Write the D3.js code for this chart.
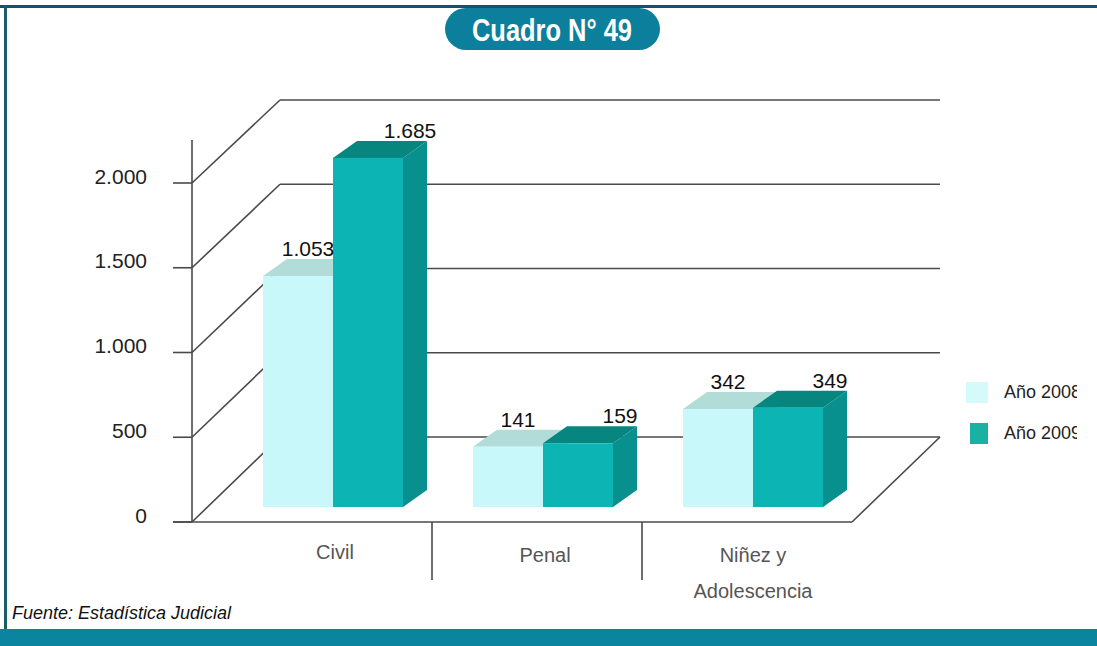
<!DOCTYPE html>
<html>
<head>
<meta charset="utf-8">
<title>Cuadro N° 49</title>
<style>
  body { margin: 0; background: #fff; }
  svg { display: block; }
</style>
</head>
<body>
<div id="container"></div>
<script src="https://cdn.jsdelivr.net/npm/d3@7"></script>
<script>
// datos
var categories = ['Civil', 'Penal', 'Niñez y Adolescencia'];
var series = ['Año 2008', 'Año 2009'];
var values2008 = [1053, 141, 342];
var values2009 = [1685, 159, 349];
var yTicks = [0, 500, 1000, 1500, 2000];
var yTickLabels = ['0', '500', '1.000', '1.500', '2.000'];
var valueLabels = [['1.053', '141', '342'], ['1.685', '159', '349']];

var width = 1097, height = 646;
var font = '"Liberation Sans Narrow", "Liberation Sans", Arial, sans-serif';

var svg = d3.select('#container').append('svg')
    .attr('width', width)
    .attr('height', height);

// marco
svg.append('rect').attr('x', 0).attr('y', 5).attr('width', width).attr('height', 3).attr('fill', '#0f5568');
svg.append('rect').attr('x', 4).attr('y', 5).attr('width', 3).attr('height', 630).attr('fill', '#1a5d6a');
svg.append('rect').attr('x', 0).attr('y', 629).attr('width', width).attr('height', 17).attr('fill', '#0a849f');

// titulo
svg.append('rect').attr('x', 445).attr('y', 8).attr('width', 215).attr('height', 42).attr('rx', 21)
    .attr('fill', '#0b7f9b');
svg.append('text').attr('x', 552).attr('y', 41).attr('text-anchor', 'middle')
    .attr('font-family', font).attr('font-weight', 'bold').attr('font-size', 32)
    .attr('textLength', 160).attr('lengthAdjust', 'spacingAndGlyphs')
    .attr('fill', '#fff').text('Cuadro N° 49');

// escalas (frente y fondo de la caja 3D)
var axisX = 192, backX = 280, backRight = 940, floorRight = 852;
var yFront = d3.scaleLinear().domain([0, 2000]).range([522, 183]);
var yBack = d3.scaleLinear().domain([0, 2000]).range([437, 100]);
var yBar = d3.scaleLinear().domain([0, 2000]).range([473, 99]);
var barBottom = 507;

var x0 = d3.scaleBand().domain(categories).range([222, 852]);
var x1 = d3.scaleBand().domain(series).range([0, 140]);
var groupOffset = (x0.bandwidth() - 140) / 2 + 6;

var lineColor = '#4a4a4a';
var grid = svg.append('g').attr('stroke', lineColor).attr('stroke-width', 1.6).attr('fill', 'none');

// pared izquierda y fondo
yTicks.forEach(function(v) {
    grid.append('line').attr('x1', axisX).attr('y1', yFront(v)).attr('x2', backX).attr('y2', yBack(v));
    grid.append('line').attr('x1', backX).attr('y1', yBack(v)).attr('x2', backRight).attr('y2', yBack(v));
});
// piso
grid.append('line').attr('x1', backRight).attr('y1', yBack(0)).attr('x2', floorRight).attr('y2', yFront(0));
grid.append('line').attr('x1', 173).attr('y1', yFront(0)).attr('x2', floorRight).attr('y2', yFront(0));
// eje vertical y marcas
grid.append('line').attr('x1', axisX).attr('y1', 140).attr('x2', axisX).attr('y2', yFront(0));
yTicks.forEach(function(v) {
    grid.append('line').attr('x1', 173).attr('y1', yFront(v)).attr('x2', axisX).attr('y2', yFront(v));
});
// separadores de categorias
categories.slice(1).forEach(function(c) {
    grid.append('line').attr('x1', x0(c)).attr('y1', yFront(0)).attr('x2', x0(c)).attr('y2', 580);
});

// etiquetas eje Y
svg.append('g').selectAll('text').data(yTicks).enter().append('text')
    .attr('x', 147).attr('y', function(d) { return yFront(d) - 5; })
    .attr('text-anchor', 'end').attr('dominant-baseline', 'middle')
    .attr('font-family', font).attr('font-size', 21).attr('fill', '#222')
    .text(function(d, i) { return yTickLabels[i]; });

// barras 3D
var dx = 24, dy = -17;
var styles = [
    { front: '#c8f8fa', side: '#a8e4e4', top: '#b2dcd8' },
    { front: '#0cb4b4', side: '#07908e', top: '#078680' }
];
var allValues = [values2008, values2009];
var bars = svg.append('g');

series.forEach(function(s, si) {
    categories.forEach(function(c, ci) {
        var v = allValues[si][ci];
        var xa = x0(c) + groupOffset + x1(s);
        var xb = xa + x1.bandwidth();
        var yt = yBar(v);
        var st = styles[si];
        bars.append('polygon')
            .attr('points', [[xb, yt], [xb + dx, yt + dy], [xb + dx, barBottom + dy], [xb, barBottom]].join(' '))
            .attr('fill', st.side);
        bars.append('polygon')
            .attr('points', [[xa, yt], [xa + dx, yt + dy], [xb + dx, yt + dy], [xb, yt]].join(' '))
            .attr('fill', st.top);
        bars.append('rect')
            .attr('x', xa).attr('y', yt).attr('width', xb - xa).attr('height', barBottom - yt)
            .attr('fill', st.front);
    });
});

// etiquetas de valores
var labelShift = [10, 42];
series.forEach(function(s, si) {
    categories.forEach(function(c, ci) {
        var v = allValues[si][ci];
        svg.append('text')
            .attr('x', x0(c) + groupOffset + x1(s) + x1.bandwidth() / 2 + labelShift[si])
            .attr('y', yBar(v) - 20)
            .attr('text-anchor', 'middle')
            .attr('font-family', font).attr('font-size', 21).attr('fill', '#111')
            .text(valueLabels[si][ci]);
    });
});

// etiquetas de categorias
var catLabels = svg.append('g').attr('font-family', font).attr('font-size', 20).attr('fill', '#555')
    .attr('text-anchor', 'middle');
categories.forEach(function(c, ci) {
    var cx = x0(c) + x0.bandwidth() / 2 + 8;
    if (ci === 2) {
        catLabels.append('text').attr('x', cx - 2).attr('y', 562).text('Niñez y');
        catLabels.append('text').attr('x', cx - 2).attr('y', 598).text('Adolescencia');
    } else {
        catLabels.append('text').attr('x', cx).attr('y', ci === 0 ? 559 : 562).text(c);
    }
});

// leyenda
svg.append('clipPath').attr('id', 'legclip').append('rect')
    .attr('x', 950).attr('y', 360).attr('width', 127).attr('height', 100);
var legend = svg.append('g').attr('clip-path', 'url(#legclip)');
var legendColors = ['#d4fafa', '#17b2a4'];
var legendY = [393, 434];
series.forEach(function(s, si) {
    legend.append('rect').attr('x', si === 0 ? 966 : 970).attr('y', legendY[si] - 11)
        .attr('width', si === 0 ? 22 : 18).attr('height', 21).attr('fill', legendColors[si]);
    legend.append('text').attr('x', 1004).attr('y', legendY[si]).attr('dominant-baseline', 'middle')
        .attr('font-family', font).attr('font-size', 18).attr('fill', '#222').text(s);
});

// fuente
svg.append('text').attr('x', 12).attr('y', 619)
    .attr('font-family', font).attr('font-style', 'italic').attr('font-size', 18).attr('fill', '#111')
    .text('Fuente: Estadística Judicial');
</script>
</body>
</html>
